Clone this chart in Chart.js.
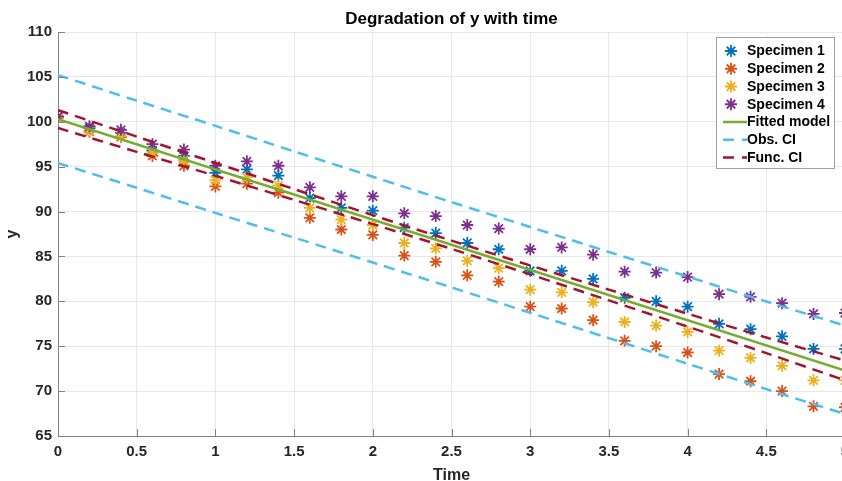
<!DOCTYPE html>
<html>
<head>
<meta charset="utf-8">
<script src="https://cdn.jsdelivr.net/npm/chart.js@4/dist/chart.umd.min.js"></script>
<style>
  html, body { margin: 0; padding: 0; background: #fff; overflow: hidden; }
  #wrap { position: absolute; left: 0; top: 0; width: 870px; height: 487px; }
</style>
</head>
<body>
<div id="wrap"><canvas id="c"></canvas></div>
<script>
const times = [0, 0.2, 0.4, 0.6, 0.8, 1.0, 1.2, 1.4, 1.6, 1.8, 2.0, 2.2, 2.4, 2.6, 2.8, 3.0, 3.2, 3.4, 3.6, 3.8, 4.0, 4.2, 4.4, 4.6, 4.8, 5.0];
const specimen1 = [100.5, 99.3, 98.8, 96.8, 96.2, 94.3, 94.7, 94.0, 91.5, 90.4, 90.1, 88.2, 87.6, 86.5, 85.8, 83.4, 83.4, 82.5, 80.4, 80.0, 79.4, 77.5, 76.9, 76.1, 74.7, 74.7];
const specimen2 = [100.4, 98.9, 98.3, 96.2, 95.1, 92.8, 93.1, 92.1, 89.3, 88.0, 87.4, 85.1, 84.4, 82.9, 82.2, 79.4, 79.2, 77.9, 75.6, 75.0, 74.3, 71.9, 71.1, 70.0, 68.3, 68.2];
const specimen3 = [100.4, 99.0, 98.4, 96.5, 95.7, 93.5, 93.8, 92.9, 90.4, 89.1, 88.5, 86.5, 85.9, 84.5, 83.7, 81.3, 81.0, 79.9, 77.7, 77.3, 76.6, 74.5, 73.7, 72.8, 71.2, 71.2];
const specimen4 = [100.6, 99.5, 99.1, 97.5, 96.9, 95.1, 95.6, 95.1, 92.7, 91.7, 91.7, 89.8, 89.5, 88.5, 88.1, 85.8, 86.0, 85.2, 83.3, 83.2, 82.7, 80.8, 80.5, 79.8, 78.6, 78.7];

const fitTimes = [0, 5];
const fitted = [100.3, 72.3];

const ciTimes = [0, 0.5, 1.0, 1.5, 2.0, 2.5, 3.0, 3.5, 4.0, 4.5, 5.0];
const obsUpper = [105.2, 102.35, 99.55, 96.7, 93.88, 91.05, 88.28, 85.5, 82.75, 79.98, 77.3];
const obsLower = [95.4, 92.65, 89.85, 87.1, 84.32, 81.55, 78.72, 75.9, 73.05, 70.22, 67.45];
const funcUpper = [101.3, 98.35, 95.42, 92.5, 89.6, 86.76, 84.0, 81.3, 78.62, 75.97, 73.4];
const funcLower = [99.3, 96.65, 93.98, 91.3, 88.6, 85.84, 83.0, 80.1, 77.18, 74.23, 71.2];

const xTicks = [0, 0.5, 1, 1.5, 2, 2.5, 3, 3.5, 4, 4.5, 5];
const yTicks = [65, 70, 75, 80, 85, 90, 95, 100, 105, 110];

const labels = ['Specimen 1', 'Specimen 2', 'Specimen 3', 'Specimen 4', 'Fitted model', 'Obs. CI', 'Func. CI'];
const colors = ['#0072BD', '#D95319', '#EDB120', '#7E2F8E', '#77AC30', '#4DBEEE', '#A2142F'];

function pts(xs, ys) { return xs.map((x, i) => ({ x: x, y: ys[i] })); }

Chart.defaults.font.family = "'Liberation Sans', Arial, Helvetica, sans-serif";
Chart.defaults.color = '#262626';

function specDs(i, vals, order) {
  return {
    label: labels[i], data: pts(times, vals), showLine: false,
    pointStyle: 'star', pointRadius: 6, pointHoverRadius: 6,
    pointBorderWidth: 1.8, borderColor: colors[i], backgroundColor: colors[i], order: order
  };
}
function lineDs(i, xs, vals, dash, order) {
  return {
    label: labels[i], data: pts(xs, vals), showLine: true, pointRadius: 0,
    borderColor: colors[i], backgroundColor: colors[i], borderWidth: 2.5,
    borderDash: dash, tension: 0.3, fill: false, order: order
  };
}

const datasets = [
  specDs(0, specimen1, 10),
  specDs(1, specimen2, 9),
  specDs(2, specimen3, 8),
  specDs(3, specimen4, 7),
  lineDs(4, fitTimes, fitted, [], 4),
  lineDs(5, ciTimes, obsUpper, [11, 7], 3),
  lineDs(5, ciTimes, obsLower, [11, 7], 3),
  lineDs(6, ciTimes, funcUpper, [11, 7], 2),
  lineDs(6, ciTimes, funcLower, [11, 7], 2)
];

const innerTicks = {
  id: 'innerTicks',
  afterDraw(chart) {
    const ctx = chart.ctx, xs = chart.scales.x, ys = chart.scales.y, a = chart.chartArea;
    ctx.save();
    ctx.strokeStyle = '#808080';
    ctx.lineWidth = 1;
    ctx.beginPath();
    xTicks.forEach(v => {
      const px = Math.round(xs.getPixelForValue(v)) + 0.5;
      ctx.moveTo(px, a.bottom); ctx.lineTo(px, a.bottom - 7);
    });
    yTicks.forEach(v => {
      const py = Math.round(ys.getPixelForValue(v)) + 0.5;
      ctx.moveTo(a.left, py); ctx.lineTo(a.left + 7, py);
    });
    ctx.stroke();
    ctx.restore();
  }
};

const boxLegend = {
  id: 'boxLegend',
  afterDraw(chart) {
    const ctx = chart.ctx;
    const bx = 716, by = 37, bw = 118, bh = 131;
    ctx.save();
    ctx.fillStyle = '#ffffff';
    ctx.fillRect(bx, by, bw, bh);
    ctx.strokeStyle = '#a0a0a0';
    ctx.lineWidth = 1;
    ctx.strokeRect(bx + 0.5, by + 0.5, bw, bh);
    ctx.font = "bold 14px 'Liberation Sans', Arial, sans-serif";
    ctx.textBaseline = 'middle';
    ctx.textAlign = 'left';
    labels.forEach((lab, i) => {
      const cy = 51 + i * 17.75;
      const col = colors[i];
      ctx.strokeStyle = col;
      if (i < 4) {
        const cx = 731, r = 6;
        ctx.lineWidth = 1.8;
        ctx.beginPath();
        for (let k = 0; k < 4; k++) {
          const ang = k * Math.PI / 4;
          ctx.moveTo(cx - r * Math.cos(ang), cy - r * Math.sin(ang));
          ctx.lineTo(cx + r * Math.cos(ang), cy + r * Math.sin(ang));
        }
        ctx.stroke();
      } else {
        ctx.lineWidth = 2.5;
        ctx.setLineDash(i === 4 ? [] : [11, 8]);
        ctx.beginPath();
        ctx.moveTo(723, cy); ctx.lineTo(747, cy);
        ctx.stroke();
        ctx.setLineDash([]);
      }
      ctx.fillStyle = '#000000';
      ctx.fillText(lab, 747, cy + 0.5);
    });
    ctx.restore();
  }
};

new Chart(document.getElementById('c'), {
  type: 'scatter',
  data: { datasets: datasets },
  plugins: [innerTicks, boxLegend],
  options: {
    responsive: true,
    maintainAspectRatio: false,
    animation: false,
    events: [],
    layout: { padding: { left: 0, right: 25, top: 0, bottom: 0 } },
    plugins: {
      legend: { display: false },
      tooltip: { enabled: false },
      title: {
        display: true, fullSize: false, text: 'Degradation of y with time', color: '#000000',
        font: { size: 17, weight: 'bold' }, padding: { top: 9, bottom: 2.6 }
      }
    },
    scales: {
      x: {
        type: 'linear', min: 0, max: 5,
        afterBuildTicks(s) { s.ticks = xTicks.map(v => ({ value: v })); },
        ticks: {
          padding: 7, font: { size: 15, weight: 'bold' }, color: '#262626', maxRotation: 0, autoSkip: false,
          callback: (v) => String(Number(v))
        },
        grid: { color: '#e8e8e8', drawTicks: false },
        border: { color: '#808080', width: 1 },
        title: { display: true, text: 'Time', color: '#262626', font: { size: 16, weight: 'bold' }, padding: { top: 0, bottom: 2 } },
        afterFit(s) { s.height = 51; }
      },
      y: {
        type: 'linear', min: 65, max: 110,
        afterBuildTicks(s) { s.ticks = yTicks.map(v => ({ value: v })); },
        ticks: { padding: 6, font: { size: 15, weight: 'bold' }, color: '#262626', callback: (v) => String(Number(v)) },
        grid: { color: '#e8e8e8', drawTicks: false },
        border: { color: '#808080', width: 1 },
        title: { display: true, text: 'y', color: '#262626', font: { size: 16, weight: 'bold' }, padding: { top: 3, bottom: 0 } },
        afterFit(s) { s.width = 58; }
      }
    }
  }
});
</script>
</body>
</html>
